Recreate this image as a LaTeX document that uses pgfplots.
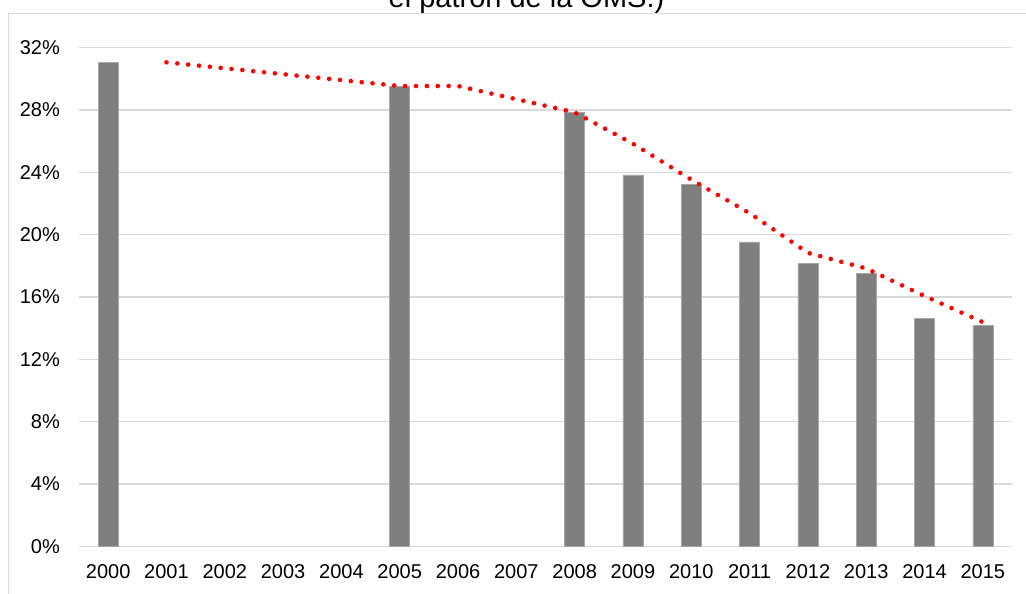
\documentclass[border=0pt]{standalone}
\usepackage{pgfplots}
\pgfplotsset{compat=1.18}
\usepackage{fontspec}
\setmainfont{Liberation Sans}
\definecolor{bargray}{HTML}{7F7F7F}
\definecolor{baredge}{HTML}{A6A6A6}
\definecolor{gridgray}{HTML}{D9D9D9}
\begin{document}
\begin{tikzpicture}
\useasboundingbox (0,0) rectangle (1026pt,594pt);
\clip (0,0) rectangle (1026pt,594pt);
\fill[white] (0,0) rectangle (1026pt,594pt);
\draw[gridgray, line width=1.3pt] (8.3pt,-5pt) -- (8.3pt,580.7pt) -- (1040pt,580.7pt);
\node[anchor=base, font=\fontsize{29}{35}\selectfont, inner sep=0pt] at (526.5pt,586pt) {el patrón de la OMS.)};
\begin{axis}[
  at={(79pt,47.7pt)}, anchor=south west,
  scale only axis, width=933pt, height=498.6pt,
  xmin=-0.5, xmax=15.5, ymin=0, ymax=32,
  axis line style={draw=none},
  major tick length=0pt,
  xtick={0,...,15},
  xticklabels={2000,2001,2002,2003,2004,2005,2006,2007,2008,2009,2010,2011,2012,2013,2014,2015},
  ytick={0,4,...,32},
  yticklabels={0\%,4\%,8\%,12\%,16\%,20\%,24\%,28\%,32\%},
  ymajorgrids,
  grid style={gridgray, line width=1.3pt},
  tick label style={font=\fontsize{20}{24}\selectfont, inner sep=0pt},
  yticklabel style={anchor=east, xshift=-19pt},
  xticklabel style={anchor=north, yshift=-18.5pt},
  clip=false,
]
\addplot[ybar, bar width=20pt, fill=bargray, draw=baredge, line width=0.6pt] coordinates {
  (0,31.06) (5,29.54) (8,27.85) (9,23.83) (10,23.23) (11,19.53) (12,18.14) (13,17.52) (14,14.61) (15,14.16)
};
\addplot[red, line width=4.6pt, line cap=round, dash pattern=on 0pt off 10.9pt] coordinates {
  (1,31.06) (5,29.54) (6,29.54) (8,27.85) (9,25.84) (10,23.53) (11,21.38) (12,18.835) (13,17.83) (14,16.065) (15,14.385)
};
\end{axis}
\end{tikzpicture}
\end{document}
